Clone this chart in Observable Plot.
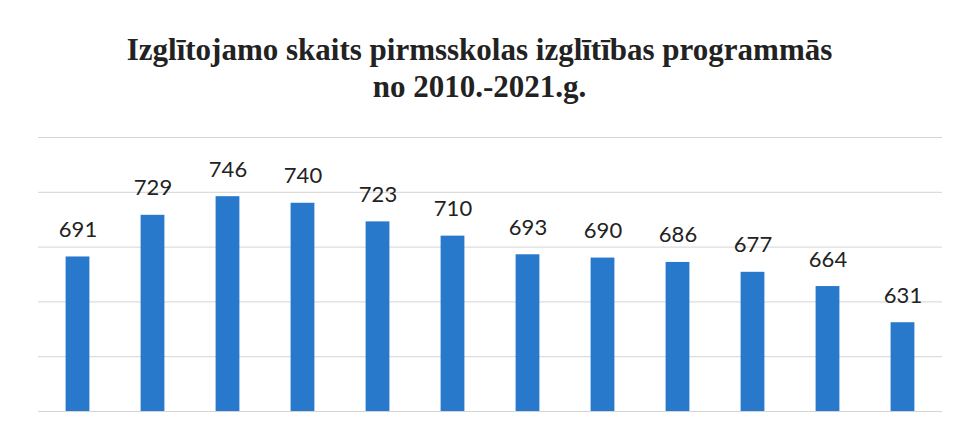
<!DOCTYPE html>
<html>
<head>
<meta charset="utf-8">
<script src="https://cdn.jsdelivr.net/npm/d3@7"></script>
<script src="https://cdn.jsdelivr.net/npm/@observablehq/plot@0.6"></script>
<style>
  html, body { margin: 0; padding: 0; background: #fff; }
  #wrap { width: 959px; height: 435px; position: relative; overflow: hidden; }
  #title {
    height: 120px; box-sizing: border-box; padding-top: 31px;
    font-family: "Liberation Serif", "Times New Roman", serif; font-weight: bold;
    font-size: 31px; line-height: 37px; text-align: center; color: #222;
  }
</style>
</head>
<body>
<div id="wrap">
  <div id="title">Izglītojamo skaits pirmsskolas izglītības programmās<br>no 2010.-2021.g.</div>
  <div id="chart"></div>
</div>
<script>
const years = ["2010","2011","2012","2013","2014","2015","2016","2017","2018","2019","2020","2021"];
const counts = [691, 729, 746, 740, 723, 710, 693, 690, 686, 677, 664, 631];
const gridTicks = [550, 600, 650, 700, 750, 800];

const data = years.map((y, i) => ({year: y, value: counts[i]}));

const chart = Plot.plot({
  width: 959,
  height: 315,
  marginTop: 17,
  marginBottom: 24,
  marginLeft: 38,
  marginRight: 17,
  x: {domain: years, padding: 0, axis: null},
  y: {domain: [550, 800], axis: null},
  marks: [
    Plot.ruleY(gridTicks, {stroke: "#d4d4d4", strokeWidth: 1}),
    Plot.rectY(data, {x: "year", y1: 550, y2: "value", fill: "#2878cc", insetLeft: 25.6, insetRight: 25.6}),
    Plot.text(data, {
      x: "year", y: "value", text: d => String(d.value),
      lineAnchor: "bottom", dy: -20,
      fontSize: 22, fontFamily: "Lato, 'Open Sans', sans-serif", fill: "#222"
    })
  ]
});
document.getElementById("chart").appendChild(chart);
</script>
</body>
</html>
